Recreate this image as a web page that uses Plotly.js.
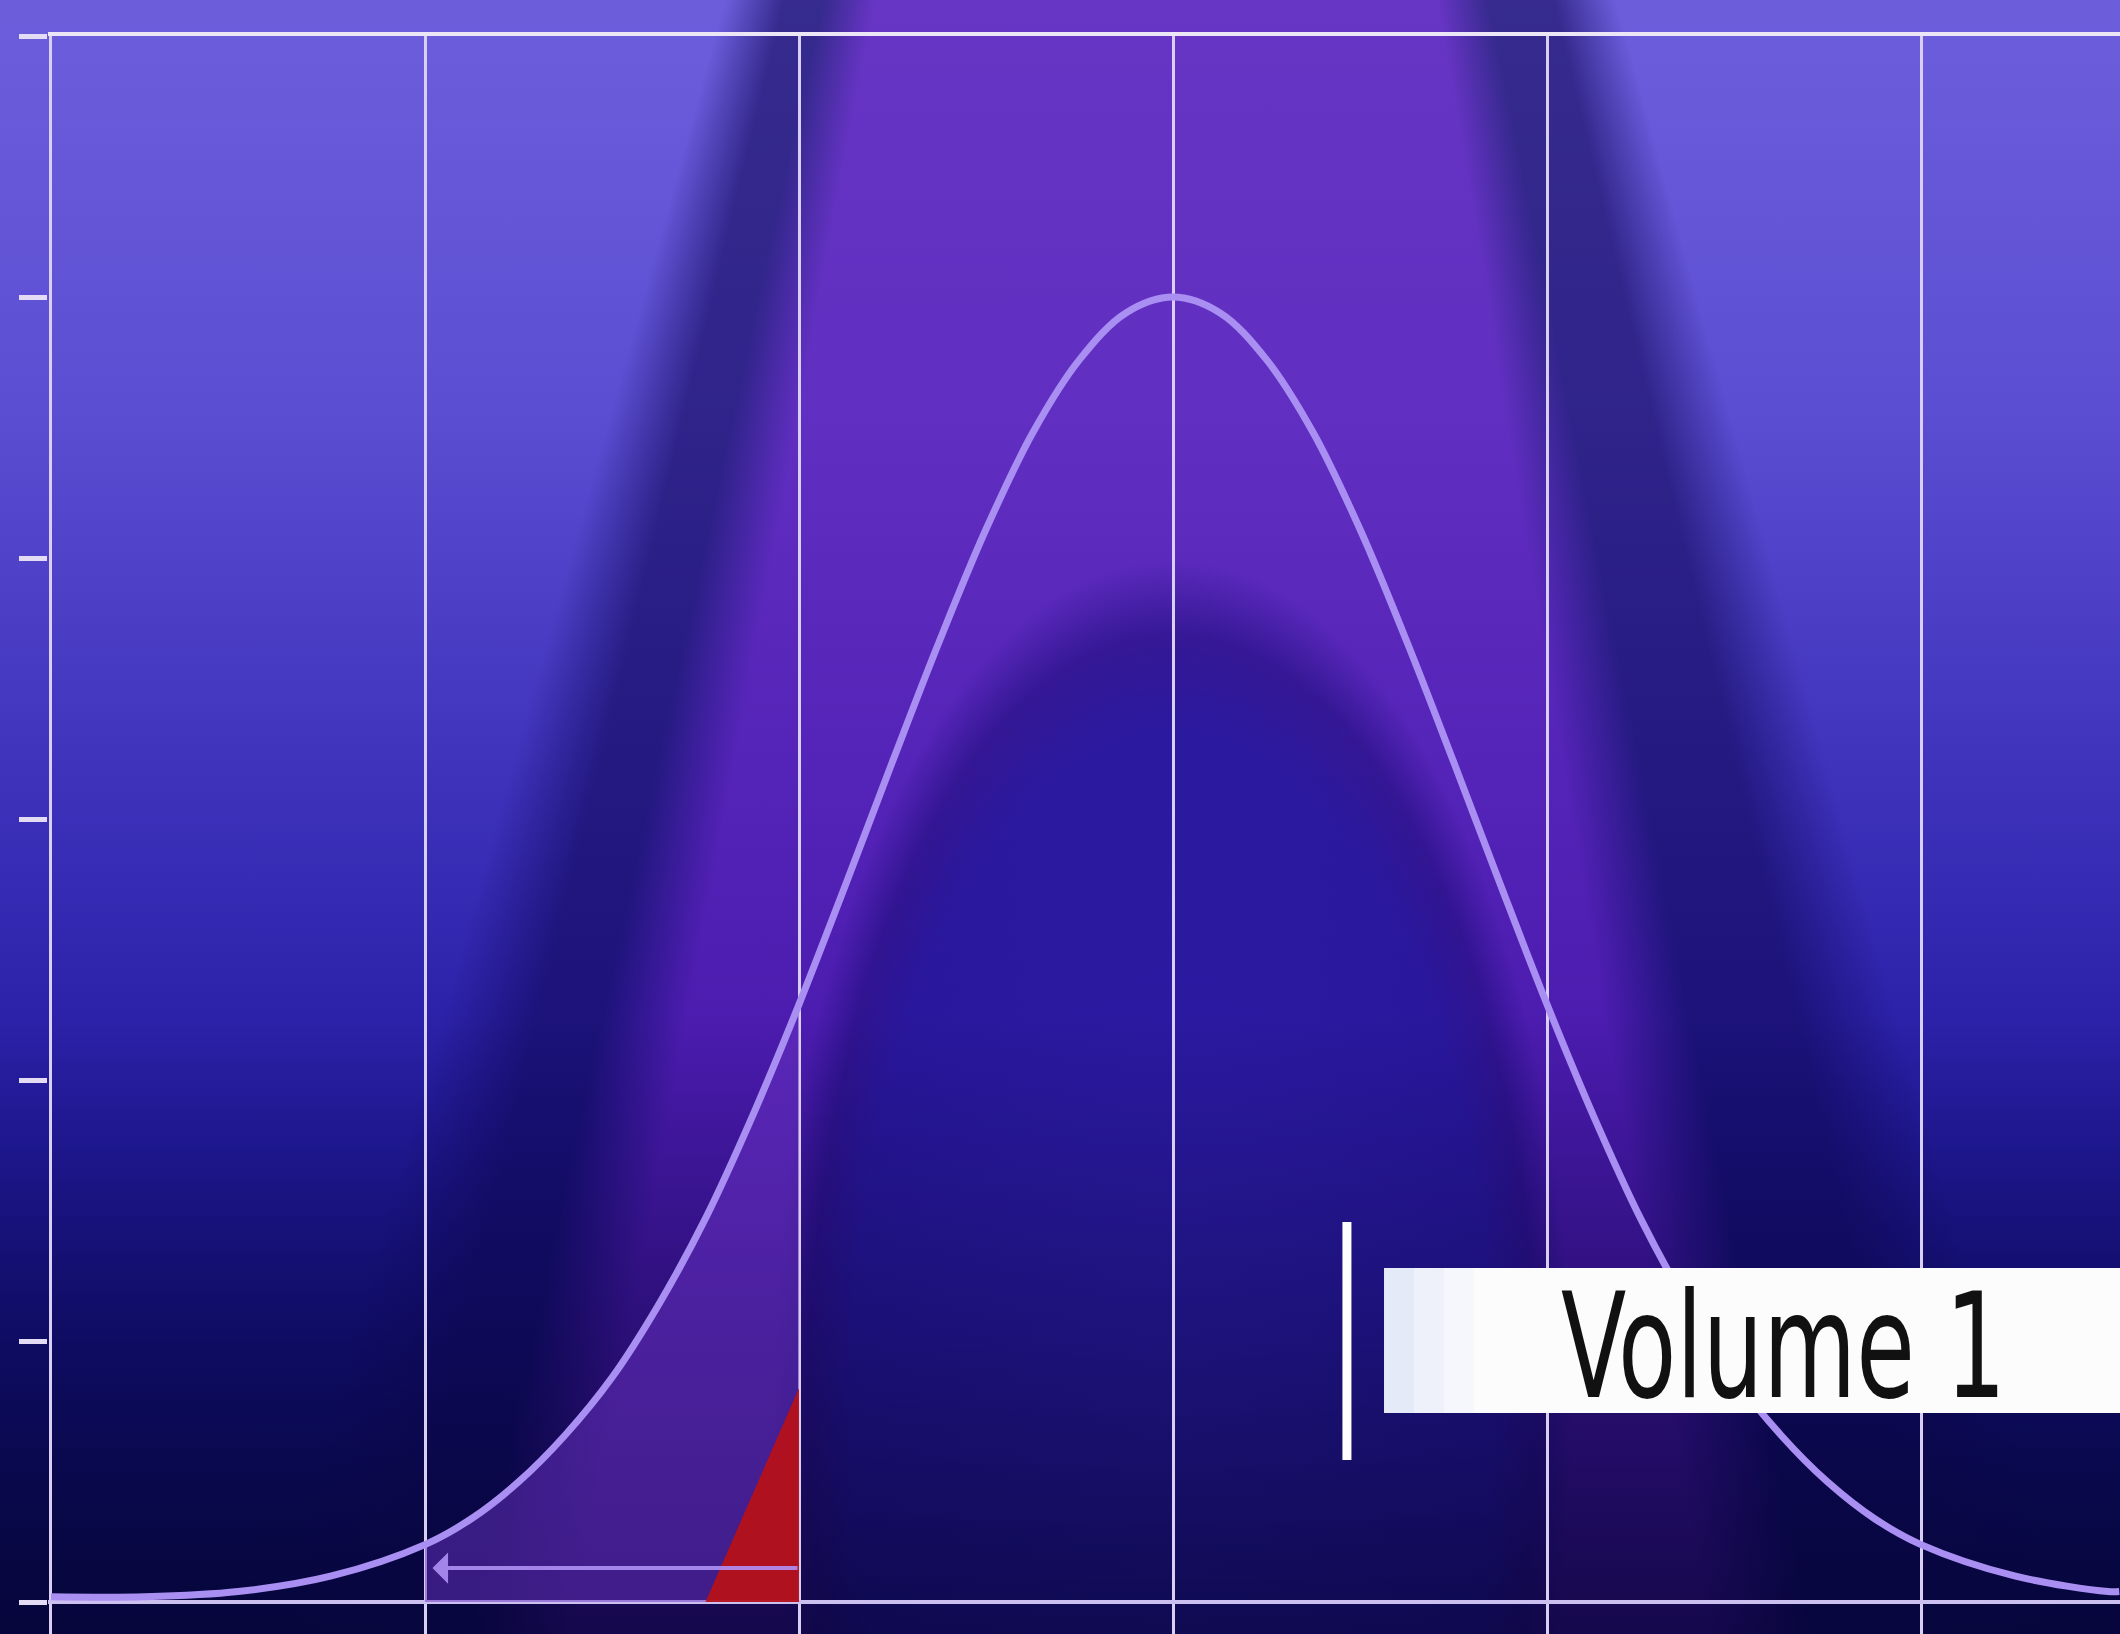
<!DOCTYPE html>
<html>
<head>
<meta charset="utf-8">
<script src="https://cdn.plot.ly/plotly-3.0.1.min.js"></script>
<style>
  html, body { margin: 0; padding: 0; background: #0a0850; }
  #chart {
    width: 2120px; height: 1634px;
    background-image:
      linear-gradient(to bottom, rgba(6,6,60,0) 0%, rgba(6,6,60,0) 62%, rgba(6,6,60,0.35) 80%, rgba(4,4,50,0.7) 100%),
      radial-gradient(ellipse 400px 850px at 1172px 1410px, rgba(38,28,162,0.8) 0%, rgba(32,22,152,0.8) 80%, rgba(24,12,118,0.55) 91%, rgba(24,12,118,0) 100%),
      conic-gradient(from 180deg at 1172px -1600px,
        rgba(100,24,180,0.58) 0deg, rgba(100,24,180,0.58) 10.5deg,
        rgba(18,8,90,0.6) 12.3deg, rgba(18,8,90,0.6) 13.6deg,
        rgba(18,8,90,0) 15.6deg, rgba(18,8,90,0) 344.5deg,
        rgba(18,8,90,0.6) 346.6deg, rgba(18,8,90,0.6) 348.8deg,
        rgba(100,24,180,0.58) 350.6deg, rgba(100,24,180,0.58) 360deg),
      linear-gradient(to bottom, #6c5edb 0%, #5c4ed2 25%, #4034bd 46%, #2c22aa 62%, #221a9c 70%, #14107c 82%, #090950 100%);
  }
</style>
</head>
<body>
<div id="chart"></div>
<script>
// Bell curve (x in grid units, y in tick units)
const curveX = [-3.0, -2.75, -2.5, -2.25, -2.0, -1.875, -1.75, -1.625, -1.5, -1.375, -1.25, -1.125,
                -1.0, -0.875, -0.75, -0.625, -0.5, -0.375, -0.25, -0.125, 0.0,
                0.125, 0.25, 0.375, 0.5, 0.625, 0.75, 0.875, 1.0, 1.125, 1.25, 1.375,
                1.5, 1.625, 1.75, 1.875, 2.0, 2.25, 2.5, 2.53];
const curveY = [0.02, 0.02, 0.04, 0.10, 0.22, 0.32, 0.46, 0.64, 0.86, 1.14, 1.47, 1.86,
                2.29, 2.75, 3.22, 3.68, 4.11, 4.48, 4.76, 4.94, 5.00,
                4.94, 4.76, 4.48, 4.11, 3.68, 3.22, 2.75, 2.29, 1.86, 1.47, 1.14,
                0.86, 0.64, 0.46, 0.32, 0.22, 0.10, 0.04, 0.04];

// Shaded tail area between the -2 and -1 gridlines
const shadeX = [-2.0, -1.875, -1.75, -1.625, -1.5, -1.375, -1.25, -1.125, -1.0];
const shadeY = [0.22, 0.32, 0.46, 0.64, 0.86, 1.14, 1.47, 1.86, 2.29];

// Red wedge at the right end of the shaded area
const redX = [-1.25, -1.0, -1.0];
const redY = [0.0, 0.82, 0.0];

// Arrow below the curve pointing left
const arrowFrom = -1.0;
const arrowTo = -1.98;
const arrowLevel = 0.13;

// Axis ticks
const xGridVals = [-3, -2, -1, 0, 1, 2];
const yTickVals = [0, 1, 2, 3, 4, 5, 6];

const title = "Volume 1";

const traces = [
  {
    x: shadeX, y: shadeY, type: 'scatter', mode: 'lines',
    line: {width: 0, shape: 'spline', smoothing: 1}, fill: 'tozeroy',
    fillcolor: 'rgba(105,50,195,0.5)', hoverinfo: 'skip', showlegend: false
  },
  {
    x: redX, y: redY, type: 'scatter', mode: 'lines',
    line: {width: 0}, fill: 'toself',
    fillcolor: 'rgba(185,16,22,0.92)', hoverinfo: 'skip', showlegend: false
  },
  {
    x: curveX, y: curveY, type: 'scatter', mode: 'lines',
    line: {color: '#a98ff2', width: 7, shape: 'spline', smoothing: 1},
    hoverinfo: 'skip', showlegend: false
  }
];

const layout = {
  width: 2120, height: 1634,
  margin: {l: 48, r: 0, t: 36, b: 0, pad: 0},
  paper_bgcolor: 'rgba(0,0,0,0)',
  plot_bgcolor: 'rgba(0,0,0,0)',
  showlegend: false,
  xaxis: {
    range: [-3.008, 2.532], side: 'top',
    tickmode: 'array', tickvals: xGridVals, showticklabels: false, ticks: '',
    showgrid: true, gridcolor: '#d8cff2', gridwidth: 3,
    showline: true, linecolor: '#ece6f7', linewidth: 4,
    zeroline: false, fixedrange: true
  },
  yaxis: {
    range: [-0.1225, 6],
    tickmode: 'array', tickvals: yTickVals, showticklabels: false,
    ticks: 'outside', ticklen: 28, tickwidth: 5, tickcolor: '#e4dcf4',
    showgrid: false, showline: false,
    zeroline: true, zerolinecolor: '#cbc0f0', zerolinewidth: 4, fixedrange: true
  },
  shapes: [
    {type: 'rect', xref: 'paper', yref: 'paper', x0: 0.6448, x1: 1.0, y0: 0.1383, y1: 0.2290,
     fillcolor: '#fcfcfd', line: {width: 0}, layer: 'above'},
    {type: 'rect', xref: 'paper', yref: 'paper', x0: 0.6448, x1: 0.6593, y0: 0.1383, y1: 0.2290,
     fillcolor: 'rgba(185,200,240,0.35)', line: {width: 0}, layer: 'above'},
    {type: 'rect', xref: 'paper', yref: 'paper', x0: 0.6593, x1: 0.6737, y0: 0.1383, y1: 0.2290,
     fillcolor: 'rgba(185,200,240,0.2)', line: {width: 0}, layer: 'above'},
    {type: 'rect', xref: 'paper', yref: 'paper', x0: 0.6737, x1: 0.6882, y0: 0.1383, y1: 0.2290,
     fillcolor: 'rgba(185,200,240,0.09)', line: {width: 0}, layer: 'above'},
    {type: 'line', xref: 'paper', yref: 'paper', x0: 0.6269, x1: 0.6269, y0: 0.1089, y1: 0.2578,
     line: {color: '#ffffff', width: 9}, layer: 'above'}
  ],
  annotations: [
    {
      x: arrowTo, y: arrowLevel, xref: 'x', yref: 'y',
      ax: arrowFrom, ay: arrowLevel, axref: 'x', ayref: 'y',
      text: '', showarrow: true, arrowhead: 1, arrowsize: 1.3, arrowwidth: 4,
      arrowcolor: 'rgba(175,145,245,0.9)', standoff: 0, startstandoff: 0
    },
    {
      x: 0.8374, y: 0.1800, xref: 'paper', yref: 'paper',
      xanchor: 'center', yanchor: 'middle',
      text: title, showarrow: false,
      font: {family: '"Liberation Sans Narrow", "DejaVu Sans Condensed", "Liberation Sans", sans-serif', size: 147, color: '#111111'}
    }
  ]
};

Plotly.newPlot('chart', traces, layout, {displayModeBar: false, staticPlot: true}).then(function () {
  document.querySelectorAll('#chart g.annotation text').forEach(function (t) {
    if (t.textContent.trim() === title) {
      const w = t.getComputedTextLength();
      if (w > 0) {
        const s = 445 / w;
        t.style.transformBox = 'fill-box';
        t.style.transformOrigin = 'center';
        t.style.transform = 'scaleX(' + s.toFixed(4) + ')';
      }
    }
  });
});
</script>
</body>
</html>
